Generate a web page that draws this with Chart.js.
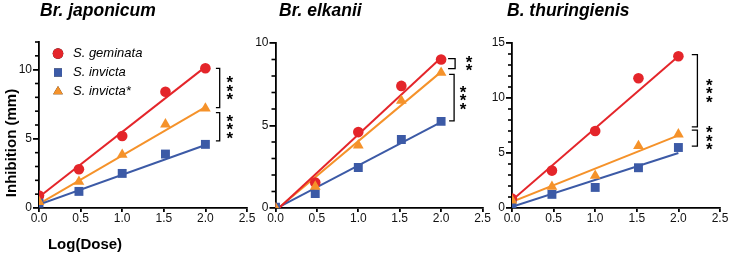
<!DOCTYPE html>
<html><head><meta charset="utf-8">
<script src="https://cdn.jsdelivr.net/npm/chart.js@4.4.1/dist/chart.umd.min.js"></script>
<style>
html,body{margin:0;padding:0;background:#fff;}
#wrap{position:relative;width:729px;height:256px;background:#fff;}
canvas{position:absolute;left:0;top:0;}
</style></head><body>
<div id="wrap">
<canvas id="c1" width="729" height="256"></canvas>
<canvas id="c2" width="729" height="256"></canvas>
<canvas id="c3" width="729" height="256"></canvas>
</div>
<script>
// ---------- data ----------
const doses = [0, 0.48, 1.0, 1.52, 2.0];
const fitX = [0, 2];
const seriesNames = ['S. geminata', 'S. invicta', 'S. invicta*'];
const xTicks = [0, 0.5, 1.0, 1.5, 2.0, 2.5];
const titles = ['Br. japonicum', 'Br. elkanii', 'B. thuringienis'];

// Br. japonicum
const japGeminata = [0.9, 2.8, 5.2, 8.4, 10.1];
const japInvicta = [0.35, 1.2, 2.5, 3.9, 4.6];
const japInvictaStar = [0.45, 1.9, 3.85, 6.05, 7.2];
const japGeminataFit = [0.8, 10.2];
const japInvictaFit = [0.25, 4.55];
const japInvictaStarFit = [0.3, 7.3];
const japYTicks = [0, 5, 10];
const japYMax = 12;
const japSig = [[10.1, 7.25, '***'], [6.9, 4.85, '***']];

// Br. elkanii
const elkGeminata = [0, 1.55, 4.6, 7.4, 9.0];
const elkInvicta = [0.05, 0.87, 2.45, 4.15, 5.25];
const elkInvictaStar = [0, 1.3, 3.8, 6.5, 8.2];
const elkGeminataFit = [-0.2, 9.1];
const elkInvictaFit = [-0.05, 5.2];
const elkInvictaStarFit = [-0.15, 8.25];
const elkYTicks = [0, 5, 10];
const elkYMax = 10;
const elkSig = [[9.05, 8.45, '**'], [8.1, 5.28, '***']];

// B. thuringienis
const thuGeminata = [0.85, 3.4, 7.0, 11.8, 13.8];
const thuInvicta = [0.3, 1.24, 1.87, 3.66, 5.5];
const thuInvictaStar = [0.7, 1.93, 2.93, 5.65, 6.7];
const thuGeminataFit = [0.7, 13.8];
const thuInvictaFit = [0.1, 5.0];
const thuInvictaStarFit = [0.57, 6.6];
const thuYTicks = [0, 5, 10, 15];
const thuYMax = 15;
const thuSig = [[13.95, 7.38, '***'], [7.08, 5.63, '***']];

// ---------- styles ----------
const FONT = '"Liberation Sans", Arial, Helvetica, sans-serif';
Chart.defaults.font.family = FONT;
const RED = '#e4252a', BLUE = '#3c5aa6', ORANGE = '#f5922a';
const colors = [RED, BLUE, ORANGE];
const styles = ['circle', 'rect', 'triangle'];
const radii = [5.3, 6.3, 6.2];

function pts(xs, ys) { return xs.map((x, i) => ({x: x, y: ys[i]})); }

function makeAnnot(geo, yTicks, yMax, sig) {
  return {
    id: 'annot_' + geo.title.replace(/\W/g, ''),
    afterDraw(chart) {
      const ctx = chart.ctx, ca = chart.chartArea;
      const xs = chart.scales.x, ys = chart.scales.y;
      ctx.save();
      // minor y ticks (every unit)
      ctx.strokeStyle = '#000'; ctx.lineWidth = 1.6;
      for (let v = 0; v <= yMax; v++) {
        if (yTicks.includes(v)) continue;
        const py = ys.getPixelForValue(v);
        ctx.beginPath(); ctx.moveTo(ca.left - 4, py); ctx.lineTo(ca.left, py); ctx.stroke();
      }
      ctx.fillStyle = '#000';
      ctx.font = 'italic bold 17.5px ' + FONT;
      ctx.textAlign = 'left'; ctx.textBaseline = 'alphabetic';
      ctx.fillText(geo.title, ca.left + geo.titleDx, 16);

      const x2 = xs.getPixelForValue(2);
      ctx.lineWidth = 1.3;
      sig.forEach((b, k) => {
        const g = geo.br[k];
        const y1 = ys.getPixelForValue(b[0]), y2 = ys.getPixelForValue(b[1]);
        const xi = x2 + g[0], xo = x2 + g[1];
        ctx.beginPath();
        ctx.moveTo(xi, y1); ctx.lineTo(xo, y1); ctx.lineTo(xo, y2); ctx.lineTo(xi, y2);
        ctx.stroke();
        const n = b[2].length, mid = (y1 + y2) / 2;
        ctx.font = 'bold 17px ' + FONT;
        ctx.textAlign = 'center'; ctx.textBaseline = 'middle';
        for (let i = 0; i < n; i++) {
          ctx.fillText('*', x2 + g[2], mid + (i - (n - 1) / 2) * 8.3 + 4);
        }
      });

      if (geo.legend) {
        const mx = ca.left + 19, tx = ca.left + 34;
        const rows = [53.5, 72.5, 91.5];
        ctx.font = 'italic 13px ' + FONT;
        ctx.textAlign = 'left'; ctx.textBaseline = 'middle';
        for (let i = 0; i < 3; i++) {
          Chart.helpers.drawPoint(ctx, {pointStyle: styles[i], radius: radii[i] - (i === 0 ? 0 : 0.6), borderWidth: 0}, mx, rows[i]);
          ctx.fillStyle = colors[i];
          ctx.fill();
          ctx.fillStyle = '#000';
          ctx.fillText(seriesNames[i], tx, rows[i]);
        }
        ctx.font = 'bold 15px ' + FONT;
        ctx.textAlign = 'center';
        ctx.fillText('Log(Dose)', 85, 245);
        ctx.save();
        ctx.translate(12, 143);
        ctx.rotate(-Math.PI / 2);
        ctx.fillText('Inhibition (mm)', 0, 0);
        ctx.restore();
      }
      ctx.restore();
    }
  };
}

function makeChart(id, g, s, si, gf, sf, sif, yTicks, yMax, sig, geo) {
  const pointSets = [g, s, si];
  const fitSets = [gf, sf, sif];
  const datasets = [];
  for (let i = 0; i < 3; i++) {
    datasets.push({
      label: seriesNames[i] + ' fit',
      data: pts(fitX, fitSets[i]),
      showLine: true, pointRadius: 0, borderColor: colors[i], borderWidth: 2,
      backgroundColor: colors[i], order: 2
    });
  }
  for (let i = 0; i < 3; i++) {
    datasets.push({
      label: seriesNames[i],
      data: pts(doses, pointSets[i]),
      showLine: false, pointStyle: styles[i], pointRadius: radii[i],
      pointBackgroundColor: colors[i], pointBorderWidth: 0, borderColor: colors[i],
      order: 1 - i * 0.1
    });
  }
  return new Chart(document.getElementById(id), {
    type: 'scatter',
    data: {datasets},
    plugins: [makeAnnot(geo, yTicks, yMax, sig)],
    options: {
      responsive: false, animation: false, devicePixelRatio: 1,
      layout: {padding: {left: geo.L - 30, right: 729 - geo.R, top: geo.T, bottom: 256 - 208 - 20}},
      plugins: {legend: {display: false}, tooltip: {enabled: false}},
      scales: {
        x: {
          type: 'linear', min: 0, max: 2.5, position: 'bottom',
          afterBuildTicks: sc => { sc.ticks = xTicks.map(v => ({value: v})); },
          afterFit: sc => { sc.height = 20; },
          ticks: {callback: v => Number(v).toFixed(1), font: {size: 12}, color: '#111', padding: -1, maxRotation: 0, autoSkip: false},
          grid: {drawOnChartArea: false, drawTicks: true, tickLength: 4, color: '#000', lineWidth: 1.8},
          border: {display: true, color: '#000', width: 1.8}
        },
        y: {
          type: 'linear', min: 0, max: yMax, position: 'left',
          afterBuildTicks: sc => { sc.ticks = yTicks.map(v => ({value: v})); },
          afterFit: sc => { sc.width = 30; },
          ticks: {font: {size: 12}, color: '#111', padding: 1},
          grid: {drawOnChartArea: false, drawTicks: true, tickLength: 6, color: '#000', lineWidth: 1.8},
          border: {display: true, color: '#000', width: 1.8}
        }
      }
    }
  });
}

makeChart('c1', japGeminata, japInvicta, japInvictaStar, japGeminataFit, japInvictaFit, japInvictaStarFit,
  japYTicks, japYMax, japSig,
  {L: 39, R: 247, T: 42, title: titles[0], titleDx: 1, legend: true,
   br: [[10.5, 14.3, 24.3], [10.5, 14.3, 24.3]]});
makeChart('c2', elkGeminata, elkInvicta, elkInvictaStar, elkGeminataFit, elkInvictaFit, elkInvictaStarFit,
  elkYTicks, elkYMax, elkSig,
  {L: 275.5, R: 482.5, T: 43, title: titles[1], titleDx: 3.5, legend: false,
   br: [[7, 14, 28], [8, 13, 22]]});
makeChart('c3', thuGeminata, thuInvicta, thuInvictaStar, thuGeminataFit, thuInvictaFit, thuInvictaStarFit,
  thuYTicks, thuYMax, thuSig,
  {L: 512, R: 720, T: 43, title: titles[2], titleDx: -5, legend: false,
   br: [[13.4, 19, 31], [13.4, 19, 31]]});
</script>
</body></html>
